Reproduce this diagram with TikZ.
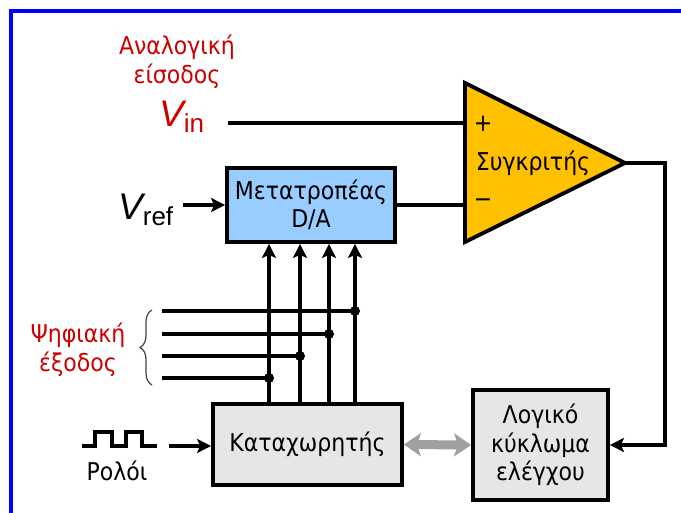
\documentclass[tikz,border=0pt]{standalone}
\usepackage{fontspec}
\setmainfont{DejaVu Sans Condensed}
\newfontfamily\arialfont{Liberation Sans}
\usetikzlibrary{arrows.meta, calc, decorations.pathreplacing}
\definecolor{tinta}{HTML}{000000}
\definecolor{rojo}{HTML}{CC0000}
\definecolor{marco}{HTML}{0000FF}
\definecolor{ambar}{HTML}{FFC000}
\definecolor{celeste}{HTML}{99CCFF}
\definecolor{grisbloque}{HTML}{E6E6E6}
\definecolor{grisflecha}{HTML}{A0A0A0}
\definecolor{grisllave}{HTML}{404040}
% Tensión con subíndice: V grande en cursiva, subíndice recto
\newcommand{\tension}[1]{{\arialfont\fontsize{37}{37}\selectfont\itshape V}%
  \raisebox{-6pt}{\arialfont\fontsize{26}{26}\selectfont #1}}
\tikzset{
  % Bloques rectangulares (convertidor, registro, lógica)
  bloque/.style   = {draw=tinta, line width=3.8pt, align=center, inner sep=0pt,
                     font=\fontsize{24.5}{28.5}\selectfont},
  % Conexiones de señal
  senal/.style    = {line width=3.4pt, color=tinta},
  flecha/.style   = {senal, -{Stealth[length=14pt, width=14pt, inset=3pt]}},
  % Bus bidireccional entre registro y lógica
  bus/.style      = {line width=9pt, color=grisflecha,
                     {Stealth[length=17pt, width=23pt, inset=4pt]}-{Stealth[length=17pt, width=23pt, inset=4pt]}},
  % Puntos de unión del bus
  punto/.style    = {circle, fill=tinta, inner sep=0pt, minimum size=10pt},
  % Textos: negros y rótulos en rojo
  texto/.style    = {align=center, font=\fontsize{24.5}{29.5}\selectfont},
  rotulo/.style   = {texto, color=rojo},
  every node/.style = {color=tinta},
}

\begin{document}
\begin{tikzpicture}[x=1pt, y=-1pt]

  \useasboundingbox (0,0) rectangle (681,513);
  \begin{scope}
    \clip (0,0) rectangle (681,513);
    \draw[color=marco, line width=4pt] (11,11) rectangle (720,560);
  \end{scope}

  % ============================================================
  % Comparador
  % ============================================================
  \coordinate (cA) at (465,83);
  \coordinate (cB) at (465,242);
  \coordinate (cS) at (625,163);
  \draw[fill=ambar, line width=3.8pt, line join=miter] (cA) -- (cS) -- (cB) -- cycle;
  \coordinate (enMas)   at (465,123);
  \coordinate (enMenos) at (465,205);
  \node[texto] (mas)        at (483,124) {+};
  \node[texto] (menos)      at (483,203) {−};
  \node[texto] (comparador) at (533,163) {Συγκριτής};

  % ============================================================
  % Bloques
  % ============================================================
  \node[bloque, fill=celeste, minimum width=168pt, minimum height=74pt]
    (dac) at (311,205) {Μετατροπέας\\D/A};
  \node[bloque, fill=grisbloque, minimum width=189pt, minimum height=81pt]
    (reg) at (307.5,444.5) {Καταχωρητής};
  \node[bloque, fill=grisbloque, minimum width=135pt, minimum height=110pt]
    (logica) at (540.5,445) {Λογικό\\κύκλωμα\\ελέγχου};

  % Entradas
  \node[rotulo] (analogica) at (177,62) {Αναλογική\\είσοδος};
  \node[rotulo, anchor=base west, inner sep=0pt] (vin) at (159,127) {\tension{in}};
  \node[anchor=base west, inner sep=0pt] (vref) at (118,220) {\tension{ref}};
  \coordinate (vinIni)  at (228,123);
  \coordinate (vrefIni) at (183,205);
  \draw[senal]  (vinIni) -- (enMas);
  \draw[flecha] (vrefIni) -- (dac.west);
  \draw[senal]  (dac.east |- enMenos) -- (enMenos);

  % Salida del comparador hacia la lógica
  \coordinate (codo) at (665,163);
  \draw[flecha] (cS) -- (codo) |- (logica.east);

  % ============================================================
  % Bus de salida digital
  % ============================================================
  \foreach \x/\y [count=\i] in {269/378, 300/356, 329/334, 355/311} {
    \node[punto] (nudo\i) at (\x,\y) {};
    \coordinate (ini\i) at (162,\y);
    \draw[senal] (ini\i) -- (nudo\i.center);
    \draw[flecha] (nudo\i.center |- reg.north) -- (nudo\i.center |- dac.south);
  }
  \draw[grisllave, line width=1.2pt, decorate, decoration={brace, amplitude=12pt}]
    (152,385) -- (152,310);
  \node[rotulo] (digital) at (78,350) {Ψηφιακή\\έξοδος};

  % ============================================================
  % Reloj y bus con la lógica
  % ============================================================
  \draw[senal, line join=miter] (82,446) -- (95,446) -- (95,432) -- (112,432)
    -- (112,446) -- (126,446) -- (126,432) -- (142,432) -- (142,446) -- (157,446);
  \node[texto] (reloj) at (117,471) {Ρολόι};
  \coordinate (relojIni) at (169,446);
  \draw[flecha] (relojIni) -- (relojIni -| reg.west);
  \draw[bus] (reg.east) -- (logica.west);

\end{tikzpicture}
\end{document}
